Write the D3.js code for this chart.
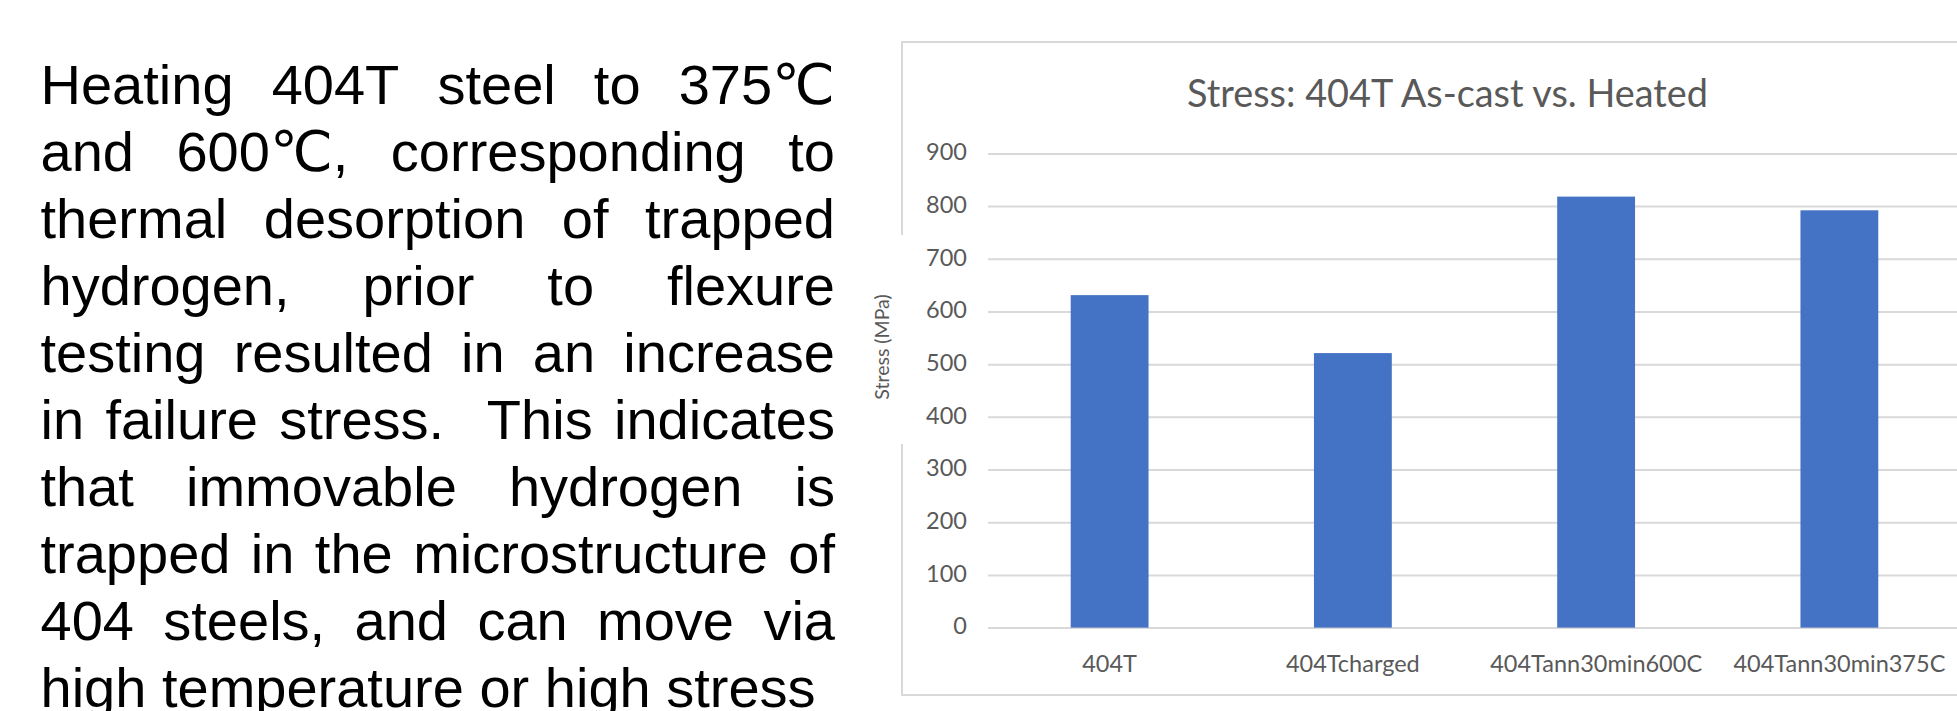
<!DOCTYPE html>
<html>
<head>
<meta charset="utf-8">
<script src="https://cdn.jsdelivr.net/npm/d3@7"></script>
<style>
  html, body { margin: 0; padding: 0; background: #fff; overflow: hidden; }
  svg { display: block; }
</style>
</head>
<body>
<svg id="slide" width="1957" height="711"></svg>
<script>
// Chart data
const categories = ["404T", "404Tcharged", "404Tann30min600C", "404Tann30min375C"];
const stressValues = [631, 521, 818, 792];
const yTicks = [0, 100, 200, 300, 400, 500, 600, 700, 800, 900];
const chartTitle = "Stress: 404T As-cast vs. Heated";
const yAxisTitle = "Stress (MPa)";

// Slide body text, one entry per line
const bodyLines = [
  "Heating 404T steel to 375\u2103",
  "and 600\u2103, corresponding to",
  "thermal desorption of trapped",
  "hydrogen, prior to flexure",
  "testing resulted in an increase",
  "in failure stress.  This indicates",
  "that immovable hydrogen is",
  "trapped in the microstructure of",
  "404 steels, and can move via",
  "high temperature or high stress"
];

const svg = d3.select("#slide");
const W = 1957;

// ---------- justified body text ----------
const bodyFont = { family: "'Liberation Sans', Arial, 'DejaVu Sans', 'Noto Sans CJK SC', sans-serif", size: 56 };
const textLeft = 40.5, textRight = 835, firstBaseline = 103.5, lineStep = 67;

const bodyG = svg.append("g")
  .attr("font-family", bodyFont.family)
  .attr("font-size", bodyFont.size)
  .attr("fill", "#000");

function measure(str) {
  const t = bodyG.append("text").text(str);
  const w = t.node().getComputedTextLength();
  t.remove();
  return w;
}
const spaceW = measure("x x") - measure("xx");

bodyLines.forEach((line, i) => {
  const words = line.split(" ");
  const widths = words.map(w => (w ? measure(w) : 0));
  const gaps = words.length - 1;
  const total = d3.sum(widths);
  const last = i === bodyLines.length - 1;
  const gap = last || gaps === 0 ? spaceW : (textRight - textLeft - total) / gaps;
  let cx = textLeft;
  const yb = firstBaseline + i * lineStep;
  words.forEach((w, k) => {
    if (w) bodyG.append("text").attr("x", cx).attr("y", yb).text(w);
    cx += widths[k] + gap;
  });
});

// ---------- chart ----------
const chartFont = "Lato, 'Open Sans', 'Noto Sans', sans-serif";
const axisGrey = "#595959";
const frameGrey = "#d9d9d9";

// chart area frame (left edge interrupted around the axis title)
const frame = svg.append("g").attr("stroke", frameGrey).attr("stroke-width", 2).attr("fill", "none");
frame.append("path").attr("d", `M902,235 V42 H${W}`);
frame.append("path").attr("d", `M902,444 V695 H${W}`);

const x = d3.scaleBand()
  .domain(categories)
  .range([988, 1961])
  .paddingInner(0.68)
  .paddingOuter(0.34);

const y = d3.scaleLinear()
  .domain([0, 900])
  .range([627.6, 153.4]);

// y axis with horizontal gridlines
const yAxis = svg.append("g")
  .attr("transform", "translate(988,0)")
  .call(d3.axisLeft(y).tickValues(yTicks).tickSize(-(W - 988)).tickPadding(21));
yAxis.select(".domain").remove();
yAxis.selectAll(".tick line").attr("stroke", frameGrey).attr("stroke-width", 2);
yAxis.selectAll(".tick text")
  .attr("font-family", chartFont)
  .attr("font-size", 23.5)
  .attr("fill", axisGrey)
  .attr("dy", "0.27em");

// bars
svg.append("g")
  .selectAll("rect")
  .data(categories.map((c, i) => ({ c, v: stressValues[i] })))
  .join("rect")
  .attr("x", d => x(d.c))
  .attr("width", x.bandwidth())
  .attr("y", d => y(d.v))
  .attr("height", d => y(0) - y(d.v))
  .attr("fill", "#4472C4");

// category axis
const xAxis = svg.append("g")
  .attr("transform", `translate(0,${y(0)})`)
  .call(d3.axisBottom(x).tickSize(0).tickPadding(27.4));
xAxis.select(".domain").remove();
xAxis.selectAll(".tick text")
  .attr("font-family", chartFont)
  .attr("font-size", 23.5)
  .attr("fill", axisGrey);

// chart title
svg.append("text")
  .attr("x", 1447.5)
  .attr("y", 106.7)
  .attr("text-anchor", "middle")
  .attr("font-family", chartFont)
  .attr("font-size", 38)
  .attr("fill", axisGrey)
  .attr("textLength", 521)
  .attr("lengthAdjust", "spacingAndGlyphs")
  .text(chartTitle);

// y axis title
svg.append("text")
  .attr("transform", "translate(889,347) rotate(-90)")
  .attr("text-anchor", "middle")
  .attr("font-family", chartFont)
  .attr("font-size", 19.5)
  .attr("fill", axisGrey)
  .text(yAxisTitle);
</script>
</body>
</html>
